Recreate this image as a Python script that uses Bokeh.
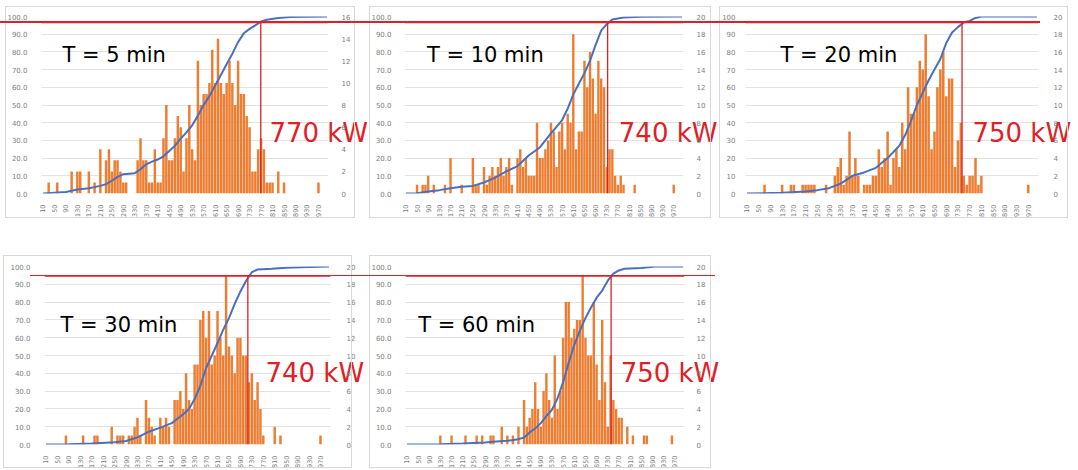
import math
from bokeh.plotting import figure
from bokeh.models import (Range1d, LinearAxis, FixedTicker, PrintfTickFormatter, BoxAnnotation, Label,
                          InlineStyleSheet)
from bokeh.layouts import column, row
from bokeh.embed import file_html
from bokeh.resources import INLINE

# ---------------- data ----------------
BINS = list(range(10, 1001, 10))          # histogram classes (kW)
X_TICKS = list(range(10, 971, 40))        # shown category labels
Y_TICKS = list(range(0, 101, 10))         # cumulative %

titles = ["T = 5 min", "T = 10 min", "T = 20 min", "T = 30 min", "T = 60 min"]
red_texts = ["770 kW", "740 kW", "750 kW", "740 kW", "750 kW"]
red_kw = [769, 733, 744, 716, 742]        # vertical red marker position
red_pct = [96.6, 96.6, 96.6, 94.7, 94.7]  # horizontal red marker level
count_max = [16, 20, 20, 20, 20]

t5_kw = [30, 60, 110, 130, 140, 170, 190, 210, 230, 240, 250, 260, 270, 280, 290, 300, 340, 350, 360, 370,
         380, 390, 400, 410, 420, 430, 440, 450, 460, 470, 480, 490, 500, 510, 520, 530, 540, 550, 560, 570,
         580, 590, 600, 610, 620, 630, 640, 650, 660, 670, 680, 690, 700, 710, 720, 730, 740, 750, 760, 770,
         780, 790, 800, 810, 830, 850, 970]
t5_cnt = [1, 1, 2, 2, 2, 2, 1, 4, 3, 4, 2, 3, 3, 2, 1, 1, 3, 5, 3, 3,
          1, 1, 4, 1, 1, 5, 8, 3, 3, 5, 7, 6, 2, 5, 8, 4, 3, 12, 8, 9,
          9, 10, 13, 10, 14, 10, 9, 10, 12, 10, 8, 12, 9, 9, 7, 6, 2, 2, 4, 5,
          4, 1, 1, 1, 2, 1, 1]

t10_kw = [50, 70, 80, 90, 110, 150, 170, 210, 250, 260, 270, 290, 300, 310, 320, 330, 340, 350, 360, 370,
          380, 390, 410, 420, 430, 440, 450, 460, 470, 480, 490, 500, 510, 520, 530, 540, 550, 560, 570, 580,
          590, 600, 610, 620, 630, 640, 650, 660, 670, 680, 690, 700, 710, 720, 730, 740, 750, 760, 770, 780,
          790, 830, 970]
t10_cnt = [1, 1, 1, 2, 1, 1, 4, 1, 4, 1, 1, 3, 1, 2, 3, 2, 3, 4, 2, 3,
           4, 1, 4, 5, 3, 4, 2, 2, 2, 8, 4, 4, 5, 6, 8, 7, 3, 7, 8, 5,
           9, 8, 18, 5, 7, 7, 15, 12, 16, 13, 9, 15, 13, 12, 3, 5, 5, 2, 1, 2,
           1, 1, 1]

t20_kw = [70, 130, 160, 170, 200, 210, 220, 230, 240, 280, 310, 320, 330, 340, 350, 360, 370, 380, 390, 410,
          420, 430, 440, 450, 460, 470, 480, 490, 500, 510, 520, 530, 540, 550, 560, 570, 580, 590, 600, 610,
          620, 630, 640, 650, 660, 670, 680, 690, 700, 710, 720, 730, 740, 750, 760, 770, 780, 790, 800, 810,
          970]
t20_cnt = [1, 1, 1, 1, 1, 1, 1, 1, 1, 1, 2, 3, 4, 1, 2, 7, 2, 4, 2, 1,
           1, 1, 2, 2, 5, 3, 4, 7, 1, 4, 5, 3, 8, 5, 12, 9, 9, 12, 15, 14,
           18, 11, 5, 7, 12, 14, 16, 11, 13, 13, 3, 6, 8, 2, 1, 2, 2, 4, 1, 2,
           1]

t30_kw = [80, 140, 180, 190, 240, 260, 270, 280, 300, 310, 320, 330, 340, 360, 370, 380, 390, 410, 420, 430,
          440, 460, 470, 480, 490, 500, 510, 520, 530, 540, 550, 560, 570, 580, 590, 600, 610, 620, 630, 640,
          650, 660, 670, 680, 690, 700, 710, 720, 730, 740, 750, 760, 770, 810, 830, 970]
t30_cnt = [1, 1, 1, 1, 2, 1, 1, 1, 1, 1, 2, 3, 1, 5, 3, 2, 1, 3, 2, 3,
           2, 5, 5, 6, 4, 8, 5, 4, 9, 9, 14, 15, 12, 15, 9, 10, 15, 12, 10, 19,
           11, 10, 8, 12, 12, 10, 10, 7, 8, 5, 7, 4, 1, 2, 1, 1]

t60_kw = [130, 170, 220, 260, 280, 310, 320, 350, 370, 390, 410, 430, 440, 450, 460, 470, 480, 490, 500, 510,
          520, 530, 540, 550, 560, 570, 580, 590, 600, 610, 620, 630, 640, 650, 660, 670, 680, 690, 700, 710,
          720, 730, 740, 750, 760, 770, 780, 800, 820, 860, 870, 960]
t60_cnt = [1, 1, 1, 1, 1, 1, 1, 2, 1, 1, 2, 5, 2, 3, 4, 7, 4, 2, 6, 8,
           5, 3, 10, 4, 6, 12, 16, 16, 12, 13, 14, 14, 19, 12, 10, 10, 16, 9, 5, 14,
           7, 2, 10, 5, 4, 3, 3, 2, 1, 1, 1, 1]

# cumulative share (%)
t5_cum_kw = [10, 50, 90, 110, 130, 170, 210, 230, 250, 270, 290, 330, 350, 370, 390, 410, 430, 450, 470, 490,
             510, 530, 550, 570, 590, 610, 630, 650, 670, 690, 710, 730, 750, 770, 790, 830, 870, 1000]
t5_cum = [0, 0.4, 0.8, 1.5, 2.3, 3.0, 4.3, 5.3, 7.2, 9.4, 10.9, 11.5, 13.7, 16.5, 18, 19.2, 21, 24, 27, 31,
          34.5, 38.5, 44, 50, 55, 61, 67, 73, 79, 85.5, 90.5, 93, 95, 97.2, 98.2, 99.1, 99.7, 100]
t10_cum_kw = [10, 50, 90, 130, 170, 210, 250, 290, 330, 370, 410, 450, 490, 530, 570, 590, 610, 630, 650, 670,
              690, 710, 730, 750, 790, 850, 1000]
t10_cum = [0, 0.2, 1.1, 1.9, 3, 3.8, 4.3, 6.2, 9, 12.5, 15.5, 21.5, 26, 34, 41.5, 48, 56, 62, 68, 75,
           84, 92, 95.7, 98.3, 99.4, 99.8, 100]
t20_cum_kw = [10, 130, 210, 250, 290, 330, 370, 410, 450, 490, 530, 550, 570, 590, 610, 630, 650, 670, 690, 710,
              730, 750, 770, 790, 810, 1000]
t20_cum = [0, 0.4, 1.1, 1.9, 3, 5.6, 10, 11.9, 14.5, 20, 27, 33, 41, 50, 57, 64, 70, 76, 85, 91,
           94, 96.8, 97.5, 99.2, 100, 100]
t30_cum_kw = [10, 90, 170, 250, 290, 330, 370, 410, 450, 490, 510, 530, 550, 570, 590, 610, 630, 650, 670, 690,
              710, 730, 750, 800, 850, 900, 1000]
t30_cum = [0, 0.2, 0.6, 1.3, 2, 4, 7.2, 9.5, 12, 17, 20, 25.5, 33, 43, 50, 57, 64.5, 71, 79, 86,
           92, 96.8, 98.3, 98.7, 99.3, 99.6, 100]
t60_cum_kw = [10, 130, 210, 290, 330, 370, 410, 430, 450, 470, 490, 510, 530, 550, 570, 590, 610, 630, 650, 670,
              690, 710, 730, 750, 770, 790, 850, 900, 1000]
t60_cum = [0, 0.2, 0.6, 1.1, 1.7, 2.1, 3, 3.9, 6.8, 9, 12, 16, 19.5, 26, 35, 46, 56, 64, 71, 77,
           82.5, 86.5, 92, 96, 97.8, 98.7, 99.2, 100, 100]

series_kw = [t5_kw, t10_kw, t20_kw, t30_kw, t60_kw]
series_cnt = [t5_cnt, t10_cnt, t20_cnt, t30_cnt, t60_cnt]
series_cum_kw = [t5_cum_kw, t10_cum_kw, t20_cum_kw, t30_cum_kw, t60_cum_kw]
series_cum = [t5_cum, t10_cum, t20_cum, t30_cum, t60_cum]

# ---------------- layout / style ----------------
ORANGE = "#ed7d31"
BLUE = "#4a6fbe"
RED = "#de2027"
GRID = "#e2e2e2"
TICK = "#808080"
BOXC = "#d9d9d9"
FONT = "DejaVu Sans"
X_LO, X_HI = 5, 1005
RED_FS = 26
RED_W = 3.79 * RED_FS      # approximate rendered width of the red label
RED_DESCENT = 10           # distance from the label box bottom to its baseline

layout_cfg = [
    dict(w=368, h=250, b=(41, 40, 16, 57), o=(0, 0), fmt="%.1f", ls=8, rs=7,
         title_at=(62, 54.3), red_at=(269, 143.3), hline=(0, 368), box=(5, 355, 5.7, 218)),
    dict(w=350, h=250, b=(29, 35, 16, 57), o=(368, 0), fmt="%.1f", ls=7, rs=7,
         title_at=(420, 54.3), red_at=(618, 143.3), hline=(368, 718), box=(368.5, 711, 5.7, 218)),
    dict(w=360, h=250, b=(27, 40, 16, 57), o=(718, 0), fmt="%d", ls=4, rs=9,
         title_at=(780, 54.3), red_at=(972, 143.3), hline=(718, 1040), box=(718.5, 1068, 5.7, 218)),
    dict(w=368, h=220, b=(44, 38, 16, 26), o=(0, 250), fmt="%.1f", ls=8, rs=10,
         title_at=(60, 324), red_at=(265, 383.3), hline=(30, 368), box=(3, 352, 255, 468)),
    dict(w=370, h=220, b=(30, 54, 16, 26), o=(368, 250), fmt="%.1f", ls=8, rs=6,
         title_at=(411, 324), red_at=(620, 383.3), hline=(368, 715), box=(368.5, 711, 255, 468)),
]


def make_panel(i):
    c = layout_cfg[i]
    W, H = c["w"], c["h"]
    bl, br, bt, bb = c["b"]
    fw, fh = W - bl - br, H - bt - bb
    ox, oy = c["o"]

    def dx(ax):
        return X_LO + (ax - ox - bl) / fw * (X_HI - X_LO)

    def dy(ay):
        return 100 - (ay - oy - bt) / fh * 100

    def py(pct):
        return bt + (100 - pct) / 100 * fh

    # panel border and the red guide line that runs across the panels (page decoration)
    x0, x1, y0, y1 = c["box"]
    h0, h1 = c["hline"]
    hy = py(red_pct[i])
    css = (
        ":host { position: relative; }\n"
        f":host::after {{ content: ''; position: absolute; left: {x0 - ox}px; top: {y0 - oy}px; "
        f"width: {x1 - x0}px; height: {y1 - y0}px; border: 1px solid {BOXC}; box-sizing: border-box; "
        "pointer-events: none; z-index: 5; }\n"
        f":host::before {{ content: ''; position: absolute; left: {h0 - ox}px; top: {hy - 0.75:.2f}px; "
        f"width: {h1 - h0}px; height: 1.5px; background: {RED}; pointer-events: none; z-index: 6; }}\n"
    )

    p = figure(width=W, height=H, x_range=Range1d(X_LO, X_HI), y_range=Range1d(0, 100),
               output_backend="svg", toolbar_location=None,
               min_border_left=bl, min_border_right=br, min_border_top=bt, min_border_bottom=bb,
               outline_line_color=None, background_fill_color="white", border_fill_color="white",
               stylesheets=[InlineStyleSheet(css=css)])
    p.extra_y_ranges = {"cnt": Range1d(0, count_max[i])}

    # left axis (cumulative %)
    ya = p.yaxis[0]
    ya.ticker = FixedTicker(ticks=Y_TICKS)
    ya.formatter = PrintfTickFormatter(format=c["fmt"])
    ya.major_label_standoff = c["ls"]
    # right axis (counts)
    ra = LinearAxis(y_range_name="cnt", ticker=FixedTicker(ticks=list(range(0, count_max[i] + 1, 2))))
    ra.major_label_standoff = c["rs"]
    p.add_layout(ra, "right")
    for ax in (ya, ra):
        ax.axis_line_color = None
        ax.major_tick_line_color = None
        ax.minor_tick_line_color = None
        ax.major_label_text_font = FONT
        ax.major_label_text_font_size = "7px"
        ax.major_label_text_color = TICK

    xa = p.xaxis[0]
    xa.ticker = FixedTicker(ticks=X_TICKS)
    xa.major_label_orientation = math.pi / 2
    xa.axis_line_color = None
    xa.major_tick_line_color = None
    xa.minor_tick_line_color = None
    xa.major_label_text_font = FONT
    xa.major_label_text_font_size = "6.5px"
    xa.major_label_text_color = "#7a7a7a"
    xa.major_label_standoff = 5

    p.xgrid.grid_line_color = None
    p.ygrid.ticker = FixedTicker(ticks=Y_TICKS)
    p.ygrid.grid_line_color = GRID

    p.vbar(x=series_kw[i], top=series_cnt[i], width=8.6, y_range_name="cnt",
           fill_color=ORANGE, line_color=None)
    p.line(series_cum_kw[i], series_cum[i], line_color=BLUE, line_width=2)

    # red markers
    p.add_layout(BoxAnnotation(left=X_LO, right=X_HI, top=red_pct[i] + 0.42, bottom=red_pct[i] - 0.42,
                               fill_color=RED, fill_alpha=1, line_color=None, level="overlay"))
    p.segment(x0=[red_kw[i]], y0=[0], x1=[red_kw[i]], y1=[red_pct[i]], line_color=RED, line_width=1.3)

    tx, ty = c["title_at"]
    p.add_layout(Label(x=dx(tx), y=dy(ty), text=titles[i], text_font=FONT, text_font_size="21px",
                       text_color="black", text_baseline="alphabetic", text_align="left"))

    # red value label: drawn as the single label of a top axis so it may run past the plot frame
    rx, ry = c["red_at"]
    tick = int(round(dx(rx + RED_W / 2)))
    ta = LinearAxis(ticker=FixedTicker(ticks=[tick]), major_label_overrides={tick: red_texts[i]})
    ta.axis_line_color = None
    ta.major_tick_line_color = None
    ta.minor_tick_line_color = None
    ta.major_label_orientation = "horizontal"
    ta.major_label_text_font = FONT
    ta.major_label_text_font_size = f"{RED_FS}px"
    ta.major_label_text_color = RED
    ta.major_label_standoff = -int(round(ry - oy - bt + RED_DESCENT))
    p.add_layout(ta, "above")
    return p


panels = [make_panel(i) for i in range(5)]
layout = column(row(panels[0], panels[1], panels[2]), row(panels[3], panels[4]))

open("out.html", "w").write(file_html(layout, INLINE))
